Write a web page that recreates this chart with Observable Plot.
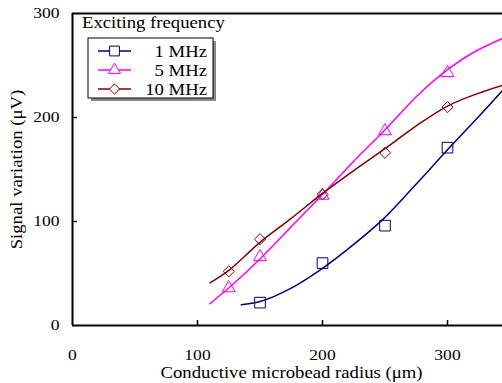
<!DOCTYPE html>
<html>
<head>
<meta charset="utf-8">
<script src="https://cdn.jsdelivr.net/npm/d3@7"></script>
<script src="https://cdn.jsdelivr.net/npm/@observablehq/plot@0.6"></script>
<style>
  body { margin: 0; background: #fff; }
  #chart { position: relative; width: 502px; height: 383px; overflow: hidden; }
  #chart svg { display: block; }
  #legend { position: absolute; left: 0; top: 0; pointer-events: none; }
</style>
</head>
<body>
<div id="chart"></div>
<script>
// Series
const seriesNames = ["1 MHz", "5 MHz", "10 MHz"];
const seriesColors = ["#000080", "#ff00ff", "#800000"];
const seriesSymbols = ["square", "triangle", "diamond2"];
const seriesRadii = [6, 4.8, 5];

// Measured signal variation (µV) versus microbead radius (µm)
const radius1 = [150, 200, 250, 300];
const signal1 = [22, 60, 96, 171];
const radius5 = [125, 150, 200, 250, 300];
const signal5 = [36, 66, 125, 187, 243];
const radius10 = [125, 150, 200, 250, 300];
const signal10 = [52, 83, 126, 166, 210];

// Fitted response curves
const fitRadius1 = [135, 150, 175, 200, 225, 250, 275, 300, 325, 344];
const fitSignal1 = [20, 23, 36, 55, 78, 104, 136, 169, 201, 226];
const fitRadius5 = [110, 125, 150, 175, 200, 225, 250, 275, 300, 320, 344];
const fitSignal5 = [21, 36, 64, 95, 126, 158, 188, 220, 246, 262, 276];
const fitRadius10 = [110, 125, 150, 175, 200, 225, 250, 275, 300, 324, 344];
const fitSignal10 = [41, 53, 80, 103, 127, 149, 170, 192, 211, 223, 231];

// Axes
const xTicks = [0, 100, 200, 300];
const yTicks = [0, 100, 200, 300];
const xDomain = [0, 344];
const yDomain = [0, 300];
const xTitle = "Conductive microbead radius (\u03bcm)";
const yTitle = "Signal variation (\u03bcV)";
const legendTitle = "Exciting frequency";

const font = "Liberation Serif";
const textStretch = 1.17;

const toPoints = (xs, ys) => xs.map((x, i) => ({x, y: ys[i]}));
const measured = [toPoints(radius1, signal1), toPoints(radius5, signal5), toPoints(radius10, signal10)];
const fitted = [toPoints(fitRadius1, fitSignal1), toPoints(fitRadius5, fitSignal5), toPoints(fitRadius10, fitSignal10)];

const seriesMarks = seriesNames.flatMap((name, k) => [
  Plot.line(fitted[k], {x: "x", y: "y", stroke: seriesColors[k], strokeWidth: 1.5, curve: "catmull-rom"}),
  Plot.dot(measured[k], {x: "x", y: "y", symbol: seriesSymbols[k], r: seriesRadii[k],
    stroke: seriesColors[k], strokeWidth: 1, fill: "none"})
]);

const chart = Plot.plot({
  width: 502,
  height: 383,
  marginLeft: 72,
  marginRight: 0,
  marginTop: 13,
  marginBottom: 58,
  style: {fontFamily: font, fontSize: "15px", color: "#000", background: "#fff", overflow: "visible"},
  x: {domain: xDomain},
  y: {domain: yDomain},
  marks: [
    Plot.axisX(xTicks, {tickSize: 0, tickPadding: 24, label: null}),
    Plot.axisY(yTicks, {tickSize: 0, tickPadding: 13, label: null}),
    ...seriesMarks,
    // frame lines: left, bottom and top
    Plot.ruleX([xDomain[0]], {x: d => d, y1: yDomain[0], y2: yDomain[1], strokeWidth: 2}),
    Plot.ruleY([yDomain[0], yDomain[1]], {y: d => d, x1: xDomain[0], x2: xDomain[1], strokeWidth: 2}),
    // inward tick marks
    Plot.ruleX(xTicks.slice(1), {x: d => d, y1: 0, y2: 0, insetBottom: 5, strokeWidth: 1.5}),
    Plot.ruleY(yTicks.slice(1, -1), {y: d => d, x1: 0, x2: 0, insetRight: -5, strokeWidth: 1.5}),
    // axis titles
    Plot.text([xTitle], {text: d => d, frameAnchor: "bottom", textAnchor: "middle", dy: 52, dx: 4, lineAnchor: "bottom", fontSize: 16}),
    Plot.text([yTitle], {text: d => d, frameAnchor: "left", textAnchor: "middle", rotate: -90, dx: -51, lineAnchor: "bottom", fontSize: 16})
  ]
});
document.getElementById("chart").appendChild(chart);

// Legend
const legend = d3.select("#chart").append("svg")
  .attr("id", "legend")
  .attr("width", 502).attr("height", 383)
  .style("font-family", font).style("font-size", "16px");

legend.append("text").attr("x", 82).attr("y", 28).text(legendTitle);
const box = {x: 88, y: 38, w: 125, h: 60};
legend.append("rect").attr("x", box.x + 3).attr("y", box.y + 3).attr("width", box.w).attr("height", box.h).attr("fill", "#8a8a8a");
legend.append("rect").attr("x", box.x).attr("y", box.y).attr("width", box.w).attr("height", box.h)
  .attr("fill", "#fff").attr("stroke", "#000").attr("stroke-width", 1);

const symbolTypes = {square: d3.symbolSquare, triangle: d3.symbolTriangle, diamond2: d3.symbolDiamond2};
seriesNames.forEach((name, k) => {
  const cy = 51 + k * 19;
  const g = legend.append("g");
  g.append("line").attr("x1", 98).attr("x2", 131).attr("y1", cy).attr("y2", cy)
    .attr("stroke", seriesColors[k]).attr("stroke-width", 1.5);
  g.append("path")
    .attr("transform", `translate(114.5,${cy})`)
    .attr("d", d3.symbol(symbolTypes[seriesSymbols[k]], Math.PI * seriesRadii[k] ** 2 * 0.85)())
    .attr("fill", "#fff").attr("stroke", seriesColors[k]).attr("stroke-width", 1);
  g.append("text").attr("x", 207).attr("y", cy).attr("dy", "0.35em").attr("text-anchor", "end").text(name);
});

// Serif lettering here is set slightly wide: stretch every label along its own baseline.
function stretchText(root, k) {
  root.querySelectorAll("text").forEach(t => {
    const x = parseFloat(t.getAttribute("x")) || 0;
    const tr = t.getAttribute("transform") || "";
    t.setAttribute("transform", `${tr} translate(${x},0) scale(${k},1) translate(${-x},0)`);
  });
}
document.querySelectorAll("#chart svg").forEach(s => stretchText(s, textStretch));
</script>
</body>
</html>
